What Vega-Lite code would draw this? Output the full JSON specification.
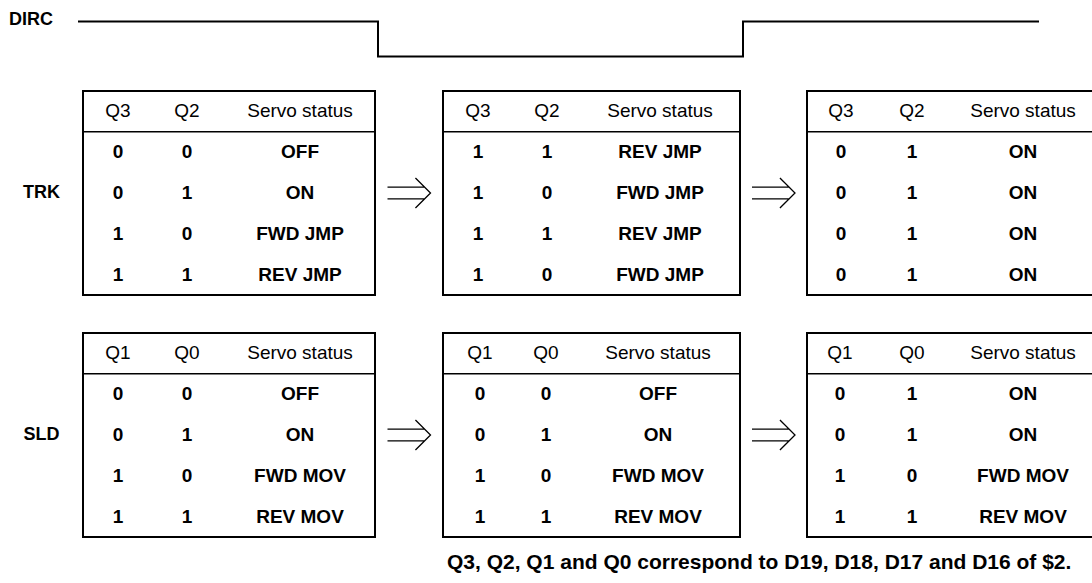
{
  "$schema": "https://vega.github.io/schema/vega-lite/v6.json",
  "background": "white",
  "padding": 0,
  "spacing": 0,
  "config": {
    "view": {"stroke": null},
    "concat": {"spacing": 0},
    "text": {"font": "Liberation Sans", "fontSize": 19, "color": "black"},
    "rule": {"color": "black"},
    "line": {"color": "black"}
  },
  "datasets": {
    "dirc": [
      {"t": 0, "level": 1},
      {"t": 300, "level": 0},
      {"t": 665, "level": 1},
      {"t": 961, "level": 1}
    ],
    "labels": [
      {"label": "DIRC"},
      {"label": "TRK"},
      {"label": "SLD"}
    ],
    "rows": [
      {"unit": "TRK", "stage": 1, "row": 0, "hi": "Q3", "lo": "Q2", "status": "Servo status"},
      {"unit": "TRK", "stage": 1, "row": 1, "hi": "0", "lo": "0", "status": "OFF"},
      {"unit": "TRK", "stage": 1, "row": 2, "hi": "0", "lo": "1", "status": "ON"},
      {"unit": "TRK", "stage": 1, "row": 3, "hi": "1", "lo": "0", "status": "FWD JMP"},
      {"unit": "TRK", "stage": 1, "row": 4, "hi": "1", "lo": "1", "status": "REV JMP"},
      {"unit": "TRK", "stage": 2, "row": 0, "hi": "Q3", "lo": "Q2", "status": "Servo status"},
      {"unit": "TRK", "stage": 2, "row": 1, "hi": "1", "lo": "1", "status": "REV JMP"},
      {"unit": "TRK", "stage": 2, "row": 2, "hi": "1", "lo": "0", "status": "FWD JMP"},
      {"unit": "TRK", "stage": 2, "row": 3, "hi": "1", "lo": "1", "status": "REV JMP"},
      {"unit": "TRK", "stage": 2, "row": 4, "hi": "1", "lo": "0", "status": "FWD JMP"},
      {"unit": "TRK", "stage": 3, "row": 0, "hi": "Q3", "lo": "Q2", "status": "Servo status"},
      {"unit": "TRK", "stage": 3, "row": 1, "hi": "0", "lo": "1", "status": "ON"},
      {"unit": "TRK", "stage": 3, "row": 2, "hi": "0", "lo": "1", "status": "ON"},
      {"unit": "TRK", "stage": 3, "row": 3, "hi": "0", "lo": "1", "status": "ON"},
      {"unit": "TRK", "stage": 3, "row": 4, "hi": "0", "lo": "1", "status": "ON"},
      {"unit": "SLD", "stage": 1, "row": 0, "hi": "Q1", "lo": "Q0", "status": "Servo status"},
      {"unit": "SLD", "stage": 1, "row": 1, "hi": "0", "lo": "0", "status": "OFF"},
      {"unit": "SLD", "stage": 1, "row": 2, "hi": "0", "lo": "1", "status": "ON"},
      {"unit": "SLD", "stage": 1, "row": 3, "hi": "1", "lo": "0", "status": "FWD MOV"},
      {"unit": "SLD", "stage": 1, "row": 4, "hi": "1", "lo": "1", "status": "REV MOV"},
      {"unit": "SLD", "stage": 2, "row": 0, "hi": "Q1", "lo": "Q0", "status": "Servo status"},
      {"unit": "SLD", "stage": 2, "row": 1, "hi": "0", "lo": "0", "status": "OFF"},
      {"unit": "SLD", "stage": 2, "row": 2, "hi": "0", "lo": "1", "status": "ON"},
      {"unit": "SLD", "stage": 2, "row": 3, "hi": "1", "lo": "0", "status": "FWD MOV"},
      {"unit": "SLD", "stage": 2, "row": 4, "hi": "1", "lo": "1", "status": "REV MOV"},
      {"unit": "SLD", "stage": 3, "row": 0, "hi": "Q1", "lo": "Q0", "status": "Servo status"},
      {"unit": "SLD", "stage": 3, "row": 1, "hi": "0", "lo": "1", "status": "ON"},
      {"unit": "SLD", "stage": 3, "row": 2, "hi": "0", "lo": "1", "status": "ON"},
      {"unit": "SLD", "stage": 3, "row": 3, "hi": "1", "lo": "0", "status": "FWD MOV"},
      {"unit": "SLD", "stage": 3, "row": 4, "hi": "1", "lo": "1", "status": "REV MOV"}
    ],
    "arrows": [{"from": 1, "to": 2}],
    "note": [{"note": "Q3, Q2, Q1 and Q0 correspond to D19, D18, D17 and D16 of $2."}]
  },
  "vconcat": [
    {
      "spacing": 0,
      "bounds": "flush",
      "hconcat": [
        {
          "width": 62, "height": 40,
          "data": {"name": "labels"},
          "transform": [{"filter": "datum.label == 'DIRC'"}],
          "mark": {"type": "text", "fontWeight": "bold", "fontSize": 18},
          "encoding": {"text": {"field": "label"}}
        },
        {
          "width": 1030, "height": 89,
          "data": {"name": "dirc"},
          "mark": {"type": "line", "interpolate": "step-after", "strokeWidth": 2, "color": "black"},
          "encoding": {
            "x": {"field": "t", "type": "quantitative", "scale": {"domain": [0, 961], "range": [16, 977]}, "axis": null},
            "y": {"field": "level", "type": "quantitative", "scale": {"domain": [0, 1], "range": [56.5, 21.5]}, "axis": null}
          }
        }
      ]
    },
    {
      "spacing": 0,
      "bounds": "flush",
      "hconcat": [
        {
          "width": 83, "height": 204,
          "data": {"name": "labels"},
          "transform": [{"filter": "datum.label == 'TRK'"}],
          "mark": {"type": "text", "fontWeight": "bold", "fontSize": 18},
          "encoding": {"text": {"field": "label"}}
        },
        {
          "width": 292, "height": 204,
          "view": {"stroke": "black", "strokeWidth": 2},
          "data": {"name": "rows"},
          "transform": [{"filter": "datum.unit == 'TRK' && datum.stage == 1"}],
          "encoding": {"y": {"field": "row", "type": "ordinal", "scale": {"type": "band", "domain": [0, 1, 2, 3, 4], "paddingInner": 0, "paddingOuter": 0}, "axis": null}},
          "layer": [
            {
              "transform": [{"fold": ["hi", "lo"], "as": ["col", "val"]}],
              "encoding": {"x": {"field": "col", "type": "nominal", "scale": {"type": "point", "domain": ["hi", "lo"], "range": [35, 104], "padding": 0}, "axis": null}, "text": {"field": "val"}},
              "layer": [
                {"transform": [{"filter": "datum.row == 0"}], "mark": {"type": "text", "fontWeight": "normal"}},
                {"transform": [{"filter": "datum.row > 0"}], "mark": {"type": "text", "fontWeight": "bold"}}
              ]
            },
            {
              "encoding": {"x": {"datum": "status", "type": "nominal", "scale": {"type": "point", "domain": ["status"], "range": [217, 217], "padding": 0}, "axis": null}, "text": {"field": "status"}},
              "layer": [
                {"transform": [{"filter": "datum.row == 0"}], "mark": {"type": "text", "fontWeight": "normal"}},
                {"transform": [{"filter": "datum.row > 0"}], "mark": {"type": "text", "fontWeight": "bold"}}
              ]
            },
            {
              "transform": [{"filter": "datum.row == 0"}],
              "mark": {"type": "rule", "strokeWidth": 1.5, "color": "black"},
              "encoding": {"y": {"field": "row", "type": "ordinal", "bandPosition": 1}}
            }
          ],
          "resolve": {"scale": {"x": "independent"}}
        },
        {
          "width": 68, "height": 204,
          "data": {"name": "arrows"},
          "mark": {"type": "point", "shape": "M-1,-0.27L0.73,-0.27M-1,0.27L0.73,0.27M0.3,-0.7L1,0L0.3,0.7", "size": 1849, "filled": false, "stroke": "black", "strokeWidth": 1.3, "opacity": 1},
          "encoding": {}
        },
        {
          "width": 297, "height": 204,
          "view": {"stroke": "black", "strokeWidth": 2},
          "data": {"name": "rows"},
          "transform": [{"filter": "datum.unit == 'TRK' && datum.stage == 2"}],
          "encoding": {"y": {"field": "row", "type": "ordinal", "scale": {"type": "band", "domain": [0, 1, 2, 3, 4], "paddingInner": 0, "paddingOuter": 0}, "axis": null}},
          "layer": [
            {
              "transform": [{"fold": ["hi", "lo"], "as": ["col", "val"]}],
              "encoding": {"x": {"field": "col", "type": "nominal", "scale": {"type": "point", "domain": ["hi", "lo"], "range": [35, 104], "padding": 0}, "axis": null}, "text": {"field": "val"}},
              "layer": [
                {"transform": [{"filter": "datum.row == 0"}], "mark": {"type": "text", "fontWeight": "normal"}},
                {"transform": [{"filter": "datum.row > 0"}], "mark": {"type": "text", "fontWeight": "bold"}}
              ]
            },
            {
              "encoding": {"x": {"datum": "status", "type": "nominal", "scale": {"type": "point", "domain": ["status"], "range": [217, 217], "padding": 0}, "axis": null}, "text": {"field": "status"}},
              "layer": [
                {"transform": [{"filter": "datum.row == 0"}], "mark": {"type": "text", "fontWeight": "normal"}},
                {"transform": [{"filter": "datum.row > 0"}], "mark": {"type": "text", "fontWeight": "bold"}}
              ]
            },
            {
              "transform": [{"filter": "datum.row == 0"}],
              "mark": {"type": "rule", "strokeWidth": 1.5, "color": "black"},
              "encoding": {"y": {"field": "row", "type": "ordinal", "bandPosition": 1}}
            }
          ],
          "resolve": {"scale": {"x": "independent"}}
        },
        {
          "width": 67, "height": 204,
          "data": {"name": "arrows"},
          "mark": {"type": "point", "shape": "M-1,-0.27L0.73,-0.27M-1,0.27L0.73,0.27M0.3,-0.7L1,0L0.3,0.7", "size": 1849, "filled": false, "stroke": "black", "strokeWidth": 1.3, "opacity": 1},
          "encoding": {}
        },
        {
          "width": 285, "height": 204,
          "data": {"name": "rows"},
          "transform": [{"filter": "datum.unit == 'TRK' && datum.stage == 3"}],
          "layer": [
            {
              "transform": [{"fold": ["hi", "lo"], "as": ["col", "val"]}],
              "encoding": {
                "y": {"field": "row", "type": "ordinal", "scale": {"type": "band", "domain": [0, 1, 2, 3, 4], "paddingInner": 0, "paddingOuter": 0}, "axis": null},
                "x": {"field": "col", "type": "nominal", "scale": {"type": "point", "domain": ["hi", "lo"], "range": [34, 105], "padding": 0}, "axis": null},
                "text": {"field": "val"}
              },
              "layer": [
                {"transform": [{"filter": "datum.row == 0"}], "mark": {"type": "text", "fontWeight": "normal"}},
                {"transform": [{"filter": "datum.row > 0"}], "mark": {"type": "text", "fontWeight": "bold"}}
              ]
            },
            {
              "encoding": {
                "y": {"field": "row", "type": "ordinal", "axis": null},
                "x": {"datum": "status", "type": "nominal", "scale": {"type": "point", "domain": ["status"], "range": [216, 216], "padding": 0}, "axis": null},
                "text": {"field": "status"}
              },
              "layer": [
                {"transform": [{"filter": "datum.row == 0"}], "mark": {"type": "text", "fontWeight": "normal"}},
                {"transform": [{"filter": "datum.row > 0"}], "mark": {"type": "text", "fontWeight": "bold"}}
              ]
            },
            {
              "transform": [{"filter": "datum.row == 0"}],
              "mark": {"type": "rule", "strokeWidth": 1.5, "color": "black"},
              "encoding": {"y": {"field": "row", "type": "ordinal", "bandPosition": 1, "axis": null}}
            },
            {
              "transform": [{"filter": "datum.row == 0"}],
              "mark": {"type": "rule", "strokeWidth": 2, "color": "black", "strokeCap": "square"},
              "encoding": {"y": {"field": "row", "type": "ordinal", "bandPosition": 0, "axis": null}}
            },
            {
              "transform": [{"filter": "datum.row == 4"}],
              "mark": {"type": "rule", "strokeWidth": 2, "color": "black", "strokeCap": "square"},
              "encoding": {"y": {"field": "row", "type": "ordinal", "bandPosition": 1, "axis": null}}
            },
            {
              "transform": [{"filter": "datum.row == 0"}],
              "mark": {"type": "rule", "strokeWidth": 2, "color": "black", "strokeCap": "square"},
              "encoding": {"x": {"datum": 0, "type": "quantitative", "scale": {"domain": [0, 1]}, "axis": null}}
            }
          ],
          "resolve": {"scale": {"x": "independent"}}
        }
      ]
    },
    {
      "width": 1, "height": 34,
      "data": {"values": [{}]},
      "mark": {"type": "text", "text": ""},
      "encoding": {}
    },
    {
      "spacing": 0,
      "bounds": "flush",
      "hconcat": [
        {
          "width": 83, "height": 204,
          "data": {"name": "labels"},
          "transform": [{"filter": "datum.label == 'SLD'"}],
          "mark": {"type": "text", "fontWeight": "bold", "fontSize": 18},
          "encoding": {"text": {"field": "label"}}
        },
        {
          "width": 292, "height": 204,
          "view": {"stroke": "black", "strokeWidth": 2},
          "data": {"name": "rows"},
          "transform": [{"filter": "datum.unit == 'SLD' && datum.stage == 1"}],
          "encoding": {"y": {"field": "row", "type": "ordinal", "scale": {"type": "band", "domain": [0, 1, 2, 3, 4], "paddingInner": 0, "paddingOuter": 0}, "axis": null}},
          "layer": [
            {
              "transform": [{"fold": ["hi", "lo"], "as": ["col", "val"]}],
              "encoding": {"x": {"field": "col", "type": "nominal", "scale": {"type": "point", "domain": ["hi", "lo"], "range": [35, 104], "padding": 0}, "axis": null}, "text": {"field": "val"}},
              "layer": [
                {"transform": [{"filter": "datum.row == 0"}], "mark": {"type": "text", "fontWeight": "normal"}},
                {"transform": [{"filter": "datum.row > 0"}], "mark": {"type": "text", "fontWeight": "bold"}}
              ]
            },
            {
              "encoding": {"x": {"datum": "status", "type": "nominal", "scale": {"type": "point", "domain": ["status"], "range": [217, 217], "padding": 0}, "axis": null}, "text": {"field": "status"}},
              "layer": [
                {"transform": [{"filter": "datum.row == 0"}], "mark": {"type": "text", "fontWeight": "normal"}},
                {"transform": [{"filter": "datum.row > 0"}], "mark": {"type": "text", "fontWeight": "bold"}}
              ]
            },
            {
              "transform": [{"filter": "datum.row == 0"}],
              "mark": {"type": "rule", "strokeWidth": 1.5, "color": "black"},
              "encoding": {"y": {"field": "row", "type": "ordinal", "bandPosition": 1}}
            }
          ],
          "resolve": {"scale": {"x": "independent"}}
        },
        {
          "width": 68, "height": 204,
          "data": {"name": "arrows"},
          "mark": {"type": "point", "shape": "M-1,-0.27L0.73,-0.27M-1,0.27L0.73,0.27M0.3,-0.7L1,0L0.3,0.7", "size": 1849, "filled": false, "stroke": "black", "strokeWidth": 1.3, "opacity": 1},
          "encoding": {}
        },
        {
          "width": 297, "height": 204,
          "view": {"stroke": "black", "strokeWidth": 2},
          "data": {"name": "rows"},
          "transform": [{"filter": "datum.unit == 'SLD' && datum.stage == 2"}],
          "encoding": {"y": {"field": "row", "type": "ordinal", "scale": {"type": "band", "domain": [0, 1, 2, 3, 4], "paddingInner": 0, "paddingOuter": 0}, "axis": null}},
          "layer": [
            {
              "transform": [{"fold": ["hi", "lo"], "as": ["col", "val"]}],
              "encoding": {"x": {"field": "col", "type": "nominal", "scale": {"type": "point", "domain": ["hi", "lo"], "range": [37, 103], "padding": 0}, "axis": null}, "text": {"field": "val"}},
              "layer": [
                {"transform": [{"filter": "datum.row == 0"}], "mark": {"type": "text", "fontWeight": "normal"}},
                {"transform": [{"filter": "datum.row > 0"}], "mark": {"type": "text", "fontWeight": "bold"}}
              ]
            },
            {
              "encoding": {"x": {"datum": "status", "type": "nominal", "scale": {"type": "point", "domain": ["status"], "range": [215, 215], "padding": 0}, "axis": null}, "text": {"field": "status"}},
              "layer": [
                {"transform": [{"filter": "datum.row == 0"}], "mark": {"type": "text", "fontWeight": "normal"}},
                {"transform": [{"filter": "datum.row > 0"}], "mark": {"type": "text", "fontWeight": "bold"}}
              ]
            },
            {
              "transform": [{"filter": "datum.row == 0"}],
              "mark": {"type": "rule", "strokeWidth": 1.5, "color": "black"},
              "encoding": {"y": {"field": "row", "type": "ordinal", "bandPosition": 1}}
            }
          ],
          "resolve": {"scale": {"x": "independent"}}
        },
        {
          "width": 67, "height": 204,
          "data": {"name": "arrows"},
          "mark": {"type": "point", "shape": "M-1,-0.27L0.73,-0.27M-1,0.27L0.73,0.27M0.3,-0.7L1,0L0.3,0.7", "size": 1849, "filled": false, "stroke": "black", "strokeWidth": 1.3, "opacity": 1},
          "encoding": {}
        },
        {
          "width": 285, "height": 204,
          "data": {"name": "rows"},
          "transform": [{"filter": "datum.unit == 'SLD' && datum.stage == 3"}],
          "layer": [
            {
              "transform": [{"fold": ["hi", "lo"], "as": ["col", "val"]}],
              "encoding": {
                "y": {"field": "row", "type": "ordinal", "scale": {"type": "band", "domain": [0, 1, 2, 3, 4], "paddingInner": 0, "paddingOuter": 0}, "axis": null},
                "x": {"field": "col", "type": "nominal", "scale": {"type": "point", "domain": ["hi", "lo"], "range": [33, 105], "padding": 0}, "axis": null},
                "text": {"field": "val"}
              },
              "layer": [
                {"transform": [{"filter": "datum.row == 0"}], "mark": {"type": "text", "fontWeight": "normal"}},
                {"transform": [{"filter": "datum.row > 0"}], "mark": {"type": "text", "fontWeight": "bold"}}
              ]
            },
            {
              "encoding": {
                "y": {"field": "row", "type": "ordinal", "axis": null},
                "x": {"datum": "status", "type": "nominal", "scale": {"type": "point", "domain": ["status"], "range": [216, 216], "padding": 0}, "axis": null},
                "text": {"field": "status"}
              },
              "layer": [
                {"transform": [{"filter": "datum.row == 0"}], "mark": {"type": "text", "fontWeight": "normal"}},
                {"transform": [{"filter": "datum.row > 0"}], "mark": {"type": "text", "fontWeight": "bold"}}
              ]
            },
            {
              "transform": [{"filter": "datum.row == 0"}],
              "mark": {"type": "rule", "strokeWidth": 1.5, "color": "black"},
              "encoding": {"y": {"field": "row", "type": "ordinal", "bandPosition": 1, "axis": null}}
            },
            {
              "transform": [{"filter": "datum.row == 0"}],
              "mark": {"type": "rule", "strokeWidth": 2, "color": "black", "strokeCap": "square"},
              "encoding": {"y": {"field": "row", "type": "ordinal", "bandPosition": 0, "axis": null}}
            },
            {
              "transform": [{"filter": "datum.row == 4"}],
              "mark": {"type": "rule", "strokeWidth": 2, "color": "black", "strokeCap": "square"},
              "encoding": {"y": {"field": "row", "type": "ordinal", "bandPosition": 1, "axis": null}}
            },
            {
              "transform": [{"filter": "datum.row == 0"}],
              "mark": {"type": "rule", "strokeWidth": 2, "color": "black", "strokeCap": "square"},
              "encoding": {"x": {"datum": 0, "type": "quantitative", "scale": {"domain": [0, 1]}, "axis": null}}
            }
          ],
          "resolve": {"scale": {"x": "independent"}}
        }
      ]
    },
    {
      "width": 894, "height": 30,
      "data": {"name": "note"},
      "mark": {"type": "text", "align": "left", "baseline": "alphabetic", "fontSize": 21, "fontWeight": "bold"},
      "encoding": {"text": {"field": "note"}, "y": {"value": "height"}}
    }
  ]
}
